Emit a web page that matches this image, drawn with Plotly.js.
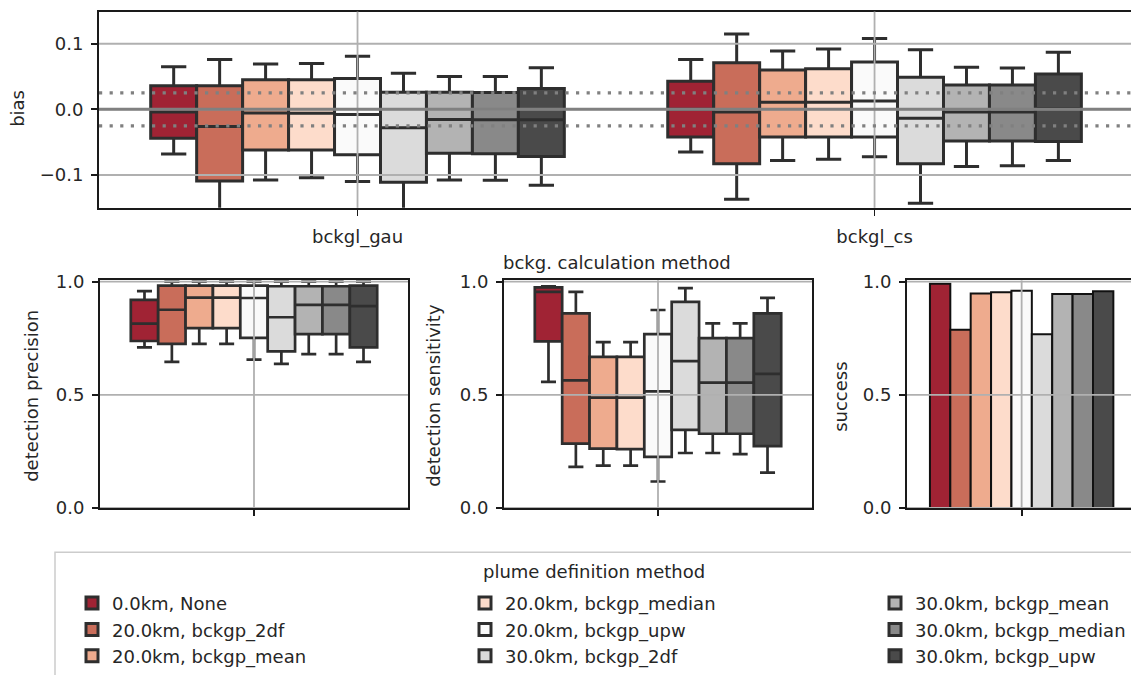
<!DOCTYPE html>
<html><head><meta charset="utf-8">
<script src="https://cdn.plot.ly/plotly-3.0.1.min.js"></script>
<style>html,body{margin:0;padding:0;overflow:hidden;background:#fff}</style>
</head><body><div id="chart" style="width:1131px;height:675px"></div>
<script>
// ---------------- data ----------------
const methods = ['0.0km, None','20.0km, bckgp_2df','20.0km, bckgp_mean','20.0km, bckgp_median','20.0km, bckgp_upw','30.0km, bckgp_2df','30.0km, bckgp_mean','30.0km, bckgp_median','30.0km, bckgp_upw'];
const colors = ['#a02334','#c96d5a','#eeab8e','#fddccb','#fafafa','#dbdbdb','#b3b3b3','#898989','#4a4a4a'];
const bckgCats = ['bckgl_gau','bckgl_cs'];
const singleCat = ['all'];

// bias box stats, per method: [bckgl_gau, bckgl_cs]
const biasLow  = [[-0.068,-0.065],[-0.16,-0.137],[-0.1075,-0.078],[-0.104,-0.076],[-0.110,-0.072],[-0.16,-0.143],[-0.1075,-0.087],[-0.108,-0.086],[-0.1157,-0.078]];
const biasQ1   = [[-0.044,-0.042],[-0.109,-0.083],[-0.062,-0.042],[-0.062,-0.042],[-0.069,-0.042],[-0.111,-0.083],[-0.067,-0.048],[-0.0677,-0.048],[-0.0717,-0.049]];
const biasMed  = [[-0.004,0.0],[-0.026,-0.004],[-0.0055,0.011],[-0.006,0.011],[-0.008,0.0126],[-0.028,-0.0136],[-0.0156,-0.004],[-0.016,-0.004],[-0.0157,0.0015]];
const biasQ3   = [[0.036,0.043],[0.036,0.071],[0.045,0.060],[0.045,0.062],[0.047,0.072],[0.026,0.049],[0.026,0.037],[0.0258,0.037],[0.0318,0.054]];
const biasHigh = [[0.065,0.076],[0.076,0.115],[0.069,0.089],[0.070,0.092],[0.081,0.108],[0.055,0.091],[0.050,0.064],[0.050,0.063],[0.0636,0.087]];

// detection precision box stats, per method
const precLow  = [0.71,0.646,0.725,0.725,0.656,0.637,0.68,0.68,0.646];
const precQ1   = [0.738,0.725,0.795,0.795,0.752,0.692,0.768,0.768,0.71];
const precMed  = [0.815,0.876,0.93,0.93,0.928,0.843,0.898,0.898,0.892];
const precQ3   = [0.92,0.983,0.983,0.983,0.983,0.98,0.98,0.98,0.983];
const precHigh = [0.958,1,1,1,1,1,1,1,1];

// detection sensitivity box stats, per method
const sensLow  = [0.557,0.182,0.187,0.187,0.117,0.243,0.243,0.238,0.156];
const sensQ1   = [0.736,0.284,0.262,0.26,0.226,0.345,0.328,0.328,0.273];
const sensMed  = [0.955,0.564,0.488,0.488,0.515,0.649,0.554,0.554,0.593];
const sensQ3   = [0.975,0.86,0.668,0.668,0.768,0.911,0.751,0.751,0.86];
const sensHigh = [0.98,0.955,0.733,0.733,0.875,0.972,0.816,0.816,0.929];

// success rate, per method
const success = [0.991,0.788,0.948,0.953,0.96,0.768,0.946,0.946,0.958];

const biasTickVals = [-0.1, 0.0, 0.1];
const biasTickText = ['\u22120.1','0.0','0.1'];
const unitTickVals = [0.0, 0.5, 1.0];
const unitTickText = ['0.0','0.5','1.0'];
const biasRefLines = [-0.025, 0.025];

// ---------------- layout helpers ----------------
const W = 1131, H = 675;
const fx = p => p / W;
const fy = p => 1 - p / H;
const INK = '#1a1a1a', GRID = '#b0b0b0', BOXLINE = '#2e2e2e';
const FONT = 'DejaVu Sans';

const traces = [];
const legendIds = ['legend','legend2','legend3'];
methods.forEach((m, i) => {
  const common = {type:'box', name:m, fillcolor:colors[i], line:{color:BOXLINE, width:3},
                  whiskerwidth:0.55, boxpoints:false, hoverinfo:'skip', offsetgroup:'m'+i};
  traces.push(Object.assign({}, common, {
    x: bckgCats, q1: biasQ1[i], median: biasMed[i], q3: biasQ3[i],
    lowerfence: biasLow[i], upperfence: biasHigh[i], xaxis:'x', yaxis:'y', alignmentgroup:'bias',
    legend: legendIds[Math.floor(i/3)], showlegend:true
  }));
  traces.push(Object.assign({}, common, {
    x: singleCat, q1:[precQ1[i]], median:[precMed[i]], q3:[precQ3[i]],
    lowerfence:[precLow[i]], upperfence:[precHigh[i]], xaxis:'x2', yaxis:'y2', alignmentgroup:'prec', showlegend:false,
    line:{color:BOXLINE, width:2.7}
  }));
  traces.push(Object.assign({}, common, {
    x: singleCat, q1:[sensQ1[i]], median:[sensMed[i]], q3:[sensQ3[i]],
    lowerfence:[sensLow[i]], upperfence:[sensHigh[i]], xaxis:'x3', yaxis:'y3', alignmentgroup:'sens', showlegend:false,
    line:{color:BOXLINE, width:2.7}
  }));
  traces.push({type:'bar', x: singleCat, y:[success[i]], name:m, xaxis:'x4', yaxis:'y4',
    alignmentgroup:'succ', offsetgroup:'m'+i,
    marker:{color:colors[i], line:{color:'#111111', width:2}}, showlegend:false, hoverinfo:'skip'});
});

function xAx(domain, range, cats, labels) {
  return {domain, range, type:'category', categoryarray:cats, categoryorder:'array',
    showticklabels:labels, ticks:'outside', ticklen:6, tickwidth:1.8, tickcolor:INK,
    showline:true, linecolor:INK, linewidth:2, mirror:true, showgrid:false, zeroline:false,
    tickfont:{size:18, color:'#262626'}, ticklabelstandoff:6, fixedrange:true};
}
function yAx(domain, range, vals, text, mirror, anchor) {
  return {domain, range, tickmode:'array', tickvals:vals, ticktext:text, anchor,
    ticks:'outside', ticklen:6, tickwidth:1.8, tickcolor:INK,
    showline:true, linecolor:INK, linewidth:2, mirror:mirror, showgrid:false, zeroline:false,
    tickfont:{size:18, color:'#262626'}, ticklabelstandoff:4, fixedrange:true};
}

const shapes = [];
// grid lines drawn above the marks (as in the reference)
function grid(xr, yr, yvals, xcats) {
  yvals.forEach(v => shapes.push({type:'line', layer:'above', xref:xr+' domain', x0:0, x1:1, yref:yr, y0:v, y1:v, line:{color:GRID, width:1.8}}));
  xcats.forEach(c => shapes.push({type:'line', layer:'above', xref:xr, x0:c, x1:c, yref:yr+' domain', y0:0, y1:1, line:{color:GRID, width:1.8}}));
}
grid('x','y', biasTickVals, bckgCats);
grid('x2','y2', unitTickVals, singleCat);
grid('x3','y3', unitTickVals, singleCat);
grid('x4','y4', unitTickVals, singleCat);
shapes.push({type:'line', layer:'above', xref:'x domain', x0:0, x1:1, yref:'y', y0:0, y1:0, line:{color:'#808080', width:3}});
biasRefLines.forEach(v => shapes.push({type:'line', layer:'above', xref:'x domain', x0:0, x1:1, yref:'y', y0:v, y1:v, line:{color:'#808080', width:3.2, dash:'3.2px,7.4px'}}));
// legend frame
shapes.push({type:'rect', xref:'paper', yref:'paper', x0:fx(55), x1:fx(1150), y0:fy(700), y1:fy(558), line:{color:'#cccccc', width:1.5}, fillcolor:'rgba(0,0,0,0)', layer:'below'});

function ann(text, x, y, angle) {
  return {text, xref:'paper', yref:'paper', x:fx(x), y:fy(y), xanchor:'center', yanchor:'middle',
    showarrow:false, textangle:angle||0, font:{size:18, color:'#262626', family:FONT}};
}
const annotations = [
  ann('bias', 18, 110, -90),
  ann('bckg. calculation method', 617, 265),
  ann('detection precision', 32, 400, -90),
  ann('detection sensitivity', 434, 400, -90),
  ann('success', 841, 401, -90),
  ann('plume definition method', 594, 577)
];

function leg(x) {
  return {x:fx(x), y:fy(591), xanchor:'left', yanchor:'top', orientation:'v', bgcolor:'rgba(0,0,0,0)',
    borderwidth:0, font:{size:18, color:'#262626', family:FONT}, tracegroupgap:0, itemclick:false, itemdoubleclick:false};
}

const layout = {
  width:W, height:H, margin:{l:0,r:0,t:0,b:0}, paper_bgcolor:'#ffffff', plot_bgcolor:'#ffffff',
  font:{family:FONT, size:18, color:'#262626'},
  boxmode:'group', boxgap:0.2, boxgroupgap:0, barmode:'group', bargap:0.2, bargroupgap:0,
  xaxis: xAx([fx(99), 1], [-0.5, 1.496], bckgCats, true),
  yaxis: yAx([fy(210), fy(11.7)], [-0.150, 0.149], biasTickVals, biasTickText, false, 'x'),
  xaxis2: Object.assign(xAx([fx(100), fx(408)], [-0.5, 0.5], singleCat, false), {anchor:'y2'}),
  yaxis2: yAx([fy(513.3), fy(283.3)], [0, 1.006], unitTickVals, unitTickText, true, 'x2'),
  xaxis3: Object.assign(xAx([fx(504), fx(812)], [-0.5, 0.5], singleCat, false), {anchor:'y3'}),
  yaxis3: yAx([fy(513.3), fy(283.3)], [0, 1.006], unitTickVals, unitTickText, true, 'x3'),
  xaxis4: Object.assign(xAx([fx(907), 1], [-0.5, 0.477], singleCat, false), {anchor:'y4'}),
  yaxis4: yAx([fy(513.3), fy(283.3)], [0, 1.006], unitTickVals, unitTickText, false, 'x4'),
  legend: leg(72), legend2: leg(465), legend3: leg(875),
  shapes, annotations, showlegend:true
};
layout.xaxis.anchor = 'y';

Plotly.newPlot('chart', traces, layout, {staticPlot:true, displayModeBar:false});
</script></body></html>
